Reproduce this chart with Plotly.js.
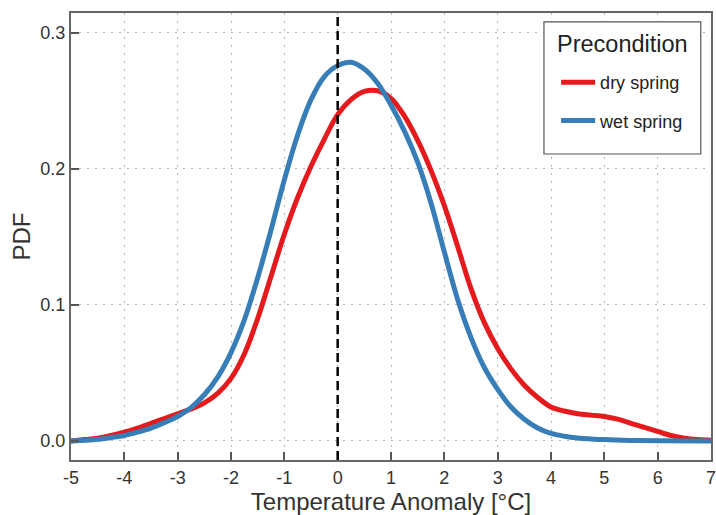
<!DOCTYPE html>
<html>
<head>
<meta charset="utf-8">
<script src="https://cdn.plot.ly/plotly-3.0.1.min.js"></script>
<style>html,body{margin:0;padding:0;background:#fff;}#chart{width:716px;height:515px;}</style>
</head>
<body>
<div id="chart"></div>
<script>
const xDry = [-5, -4.75, -4.5, -4.25, -4, -3.75, -3.5, -3.25, -3, -2.75, -2.5, -2.25, -2, -1.75, -1.5, -1.25, -1, -0.75, -0.5, -0.25, 0, 0.25, 0.5, 0.75, 1, 1.25, 1.5, 1.75, 2, 2.25, 2.5, 2.75, 3, 3.25, 3.5, 3.75, 4, 4.25, 4.5, 4.75, 5, 5.25, 5.5, 5.75, 6, 6.25, 6.5, 6.75, 7];
const yDry = [0.000, 0.001, 0.002, 0.004, 0.0065, 0.0095, 0.013, 0.0165, 0.020, 0.0235, 0.028, 0.035, 0.046, 0.064, 0.090, 0.121, 0.152, 0.179, 0.202, 0.222, 0.240, 0.251, 0.257, 0.2575, 0.252, 0.239, 0.221, 0.199, 0.173, 0.143, 0.112, 0.087, 0.068, 0.053, 0.041, 0.032, 0.025, 0.022, 0.020, 0.019, 0.018, 0.016, 0.013, 0.010, 0.007, 0.004, 0.002, 0.001, 0.0005];
const xWet = [-5, -4.75, -4.5, -4.25, -4, -3.75, -3.5, -3.25, -3, -2.75, -2.5, -2.25, -2, -1.75, -1.5, -1.25, -1, -0.75, -0.5, -0.25, 0, 0.25, 0.5, 0.75, 1, 1.25, 1.5, 1.75, 2, 2.25, 2.5, 2.75, 3, 3.25, 3.5, 3.75, 4, 4.25, 4.5, 4.75, 5, 5.5, 6, 7];
const yWet = [0.000, 0.0005, 0.0012, 0.0025, 0.004, 0.0065, 0.0095, 0.0135, 0.018, 0.0245, 0.034, 0.047, 0.065, 0.089, 0.120, 0.155, 0.192, 0.225, 0.251, 0.268, 0.276, 0.2785, 0.2735, 0.263, 0.247, 0.228, 0.205, 0.175, 0.139, 0.104, 0.076, 0.054, 0.038, 0.025, 0.016, 0.0095, 0.0055, 0.0035, 0.0022, 0.0015, 0.001, 0.0004, 0.0001, 0.0];
const seriesNames = ['dry spring', 'wet spring'];
const legendTitle = 'Precondition';
const xTicks = [-5, -4, -3, -2, -1, 0, 1, 2, 3, 4, 5, 6, 7];
const yTicks = [0.0, 0.1, 0.2, 0.3];

const font = 'Liberation Sans, Arial, sans-serif';
const traces = [
  {x: xDry, y: yDry, name: seriesNames[0], mode: 'lines', legendgroup: 'a',
   line: {color: '#e41a1c', width: 5, shape: 'spline', smoothing: 1}},
  {x: xWet, y: yWet, name: seriesNames[1], mode: 'lines', legendgroup: 'b',
   line: {color: '#377eb8', width: 5, shape: 'spline', smoothing: 1}}
];
const layout = {
  width: 716, height: 515,
  margin: {l: 71, r: 5, t: 13, b: 55},
  paper_bgcolor: '#fff', plot_bgcolor: '#fff',
  font: {family: font, color: '#333', size: 18},
  xaxis: {
    range: [-5, 7], tickvals: xTicks, ticktext: xTicks.map(String),
    ticks: 'inside', ticklen: 8, tickwidth: 2, tickcolor: '#555',
    showline: true, linecolor: '#666', linewidth: 2, mirror: true,
    showgrid: true, gridcolor: '#b4b4b4', griddash: '2px,6px', gridwidth: 1,
    zeroline: false, tickfont: {size: 18, color: '#333'}, ticklabeloverflow: 'allow',
    title: {text: 'Temperature Anomaly [°C]', font: {size: 24, color: '#333'}, standoff: 10}
  },
  yaxis: {
    range: [-0.014, 0.3147], tickvals: yTicks, ticktext: yTicks.map(v => v.toFixed(1)),
    ticks: 'inside', ticklen: 8, tickwidth: 2, tickcolor: '#555',
    showline: true, linecolor: '#666', linewidth: 2, mirror: true,
    showgrid: true, gridcolor: '#b4b4b4', griddash: '2px,6px', gridwidth: 1,
    zeroline: false, tickfont: {size: 18, color: '#333'},
    title: {text: 'PDF', font: {size: 24, color: '#333'}, standoff: 3}
  },
  legend: {
    x: 0.758, y: 0.886, xanchor: 'left', yanchor: 'top',
    bgcolor: 'rgba(0,0,0,0)', borderwidth: 0,
    font: {size: 18, color: '#222'},
    tracegroupgap: 12, itemwidth: 34
  },
  annotations: [{text: legendTitle, xref: 'paper', yref: 'paper', x: 0.861, y: 0.9306,
                 xanchor: 'center', yanchor: 'middle', showarrow: false,
                 font: {size: 23.5, color: '#222'}}],
  shapes: [
    {type: 'line', xref: 'x', yref: 'paper', x0: 0, x1: 0, y0: 0, y1: 1,
     line: {color: '#000', width: 2.5, dash: '9px,5px'}, layer: 'above'},
    {type: 'rect', xref: 'paper', yref: 'paper', x0: 0.739, x1: 0.984, y0: 0.6846, y1: 0.980,
     fillcolor: '#fff', line: {color: '#555', width: 1.2}, layer: 'above'}
  ],
  showlegend: true
};
Plotly.newPlot('chart', traces, layout, {displayModeBar: false, staticPlot: true});
</script>
</body>
</html>
